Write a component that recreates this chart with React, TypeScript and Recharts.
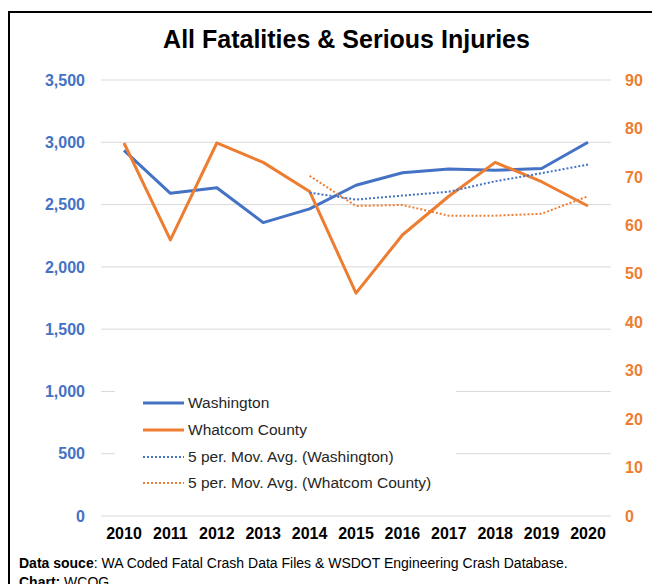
import React from 'react';
import { LineChart, Line, XAxis, YAxis, CartesianGrid, Legend } from 'recharts';

const years = ['2010', '2011', '2012', '2013', '2014', '2015', '2016', '2017', '2018', '2019', '2020'];
const washington = [2935, 2590, 2635, 2355, 2465, 2655, 2755, 2785, 2775, 2790, 3000];
const whatcom = [77, 57, 77, 73, 67, 46, 58, 66, 73, 69, 64];
const washingtonAvg = [null, null, null, null, 2596, 2540, 2572, 2603, 2687, 2752, 2821];
const whatcomAvg = [null, null, null, null, 70.2, 64, 64.2, 62, 62, 62.4, 66];
const leftTicks = [0, 500, 1000, 1500, 2000, 2500, 3000, 3500];
const rightTicks = [0, 10, 20, 30, 40, 50, 60, 70, 80, 90];
const seriesNames = [
  'Washington',
  'Whatcom County',
  '5 per. Mov. Avg. (Washington)',
  '5 per. Mov. Avg. (Whatcom County)',
];

const BLUE = '#4472C4';
const ORANGE = '#ED7D31';
const FONT = '"Liberation Sans", Arial, sans-serif';

const data = years.map((year, i) => ({
  year,
  washington: washington[i],
  whatcom: whatcom[i],
  washingtonAvg: washingtonAvg[i],
  whatcomAvg: whatcomAvg[i],
}));

function LegendBox({ payload }: any) {
  // keep the series order, not the alphabetical one
  const items = [...(payload || [])].sort(
    (a: any, b: any) => seriesNames.indexOf(a.value) - seriesNames.indexOf(b.value)
  );
  return (
    <div style={{ paddingTop: 2, fontFamily: FONT, fontSize: 15.5, color: '#262626' }}>
      {items.map((entry: any) => {
        const dash = entry.payload?.strokeDasharray;
        return (
          <div key={entry.value} style={{ height: 26.7, display: 'flex', alignItems: 'center' }}>
            <svg width={73} height={10} style={{ flex: 'none' }}>
              <line
                x1={28}
                x2={69}
                y1={5}
                y2={5}
                stroke={entry.color}
                strokeWidth={dash ? 2 : 3}
                strokeDasharray={dash}
              />
            </svg>
            <span style={{ whiteSpace: 'nowrap' }}>{entry.value}</span>
          </div>
        );
      })}
    </div>
  );
}

export default function App() {
  const tickStyle = { fontFamily: FONT, fontSize: 16, fontWeight: 700 };
  return (
    <div
      style={{
        position: 'absolute',
        left: 0,
        top: 0,
        width: 652,
        height: 584,
        overflow: 'hidden',
        background: '#fff',
        fontFamily: FONT,
      }}
    >
      <div
        style={{
          position: 'absolute',
          left: 8,
          top: 11,
          width: 700,
          height: 700,
          borderTop: '2px solid #000',
          borderLeft: '2px solid #000',
        }}
      />
      <div
        style={{
          position: 'absolute',
          left: 0,
          top: 27,
          width: 693,
          textAlign: 'center',
          fontSize: 25,
          lineHeight: '25px',
          fontWeight: 700,
          color: '#000',
        }}
      >
        All Fatalities &amp; Serious Injuries
      </div>
      <div style={{ position: 'absolute', left: 0, top: 0 }}>
        <LineChart width={652} height={584} data={data} margin={{ top: 80, right: 1, bottom: 38, left: 41 }}>
          <CartesianGrid yAxisId="left" vertical={false} stroke="#D9D9D9" strokeWidth={1} />
          <XAxis
            dataKey="year"
            axisLine={false}
            tickLine={false}
            height={30}
            tickMargin={6}
            padding={{ left: 23, right: 23 }}
            tick={{ ...tickStyle, fill: '#000' }}
            interval={0}
          />
          <YAxis
            yAxisId="left"
            orientation="left"
            width={60}
            domain={[0, 3500]}
            ticks={leftTicks}
            axisLine={false}
            tickLine={false}
            tickMargin={10}
            tick={{ ...tickStyle, fill: BLUE }}
            tickFormatter={(v: number) => v.toLocaleString('en-US')}
          />
          <YAxis
            yAxisId="right"
            orientation="right"
            width={40}
            domain={[0, 90]}
            ticks={rightTicks}
            axisLine={false}
            tickLine={false}
            tickMargin={8}
            tick={{ ...tickStyle, fill: ORANGE }}
          />
          <Line
            yAxisId="left"
            dataKey="washington"
            name={seriesNames[0]}
            stroke={BLUE}
            strokeWidth={3}
            strokeLinejoin="round"
            dot={false}
            activeDot={false}
            isAnimationActive={false}
          />
          <Line
            yAxisId="right"
            dataKey="whatcom"
            name={seriesNames[1]}
            stroke={ORANGE}
            strokeWidth={3}
            strokeLinejoin="round"
            dot={false}
            activeDot={false}
            isAnimationActive={false}
          />
          <Line
            yAxisId="left"
            dataKey="washingtonAvg"
            name={seriesNames[2]}
            stroke={BLUE}
            strokeWidth={2}
            strokeDasharray="2 2"
            dot={false}
            activeDot={false}
            isAnimationActive={false}
          />
          <Line
            yAxisId="right"
            dataKey="whatcomAvg"
            name={seriesNames[3]}
            stroke={ORANGE}
            strokeWidth={2}
            strokeDasharray="2 2"
            dot={false}
            activeDot={false}
            isAnimationActive={false}
          />
          <Legend
            layout="vertical"
            verticalAlign="middle"
            align="center"
            content={<LegendBox />}
            wrapperStyle={{
              position: 'absolute',
              left: 115,
              top: 388,
              width: 341,
              height: 108,
              backgroundColor: '#fff',
            }}
          />
        </LineChart>
      </div>
      <div
        style={{
          position: 'absolute',
          left: 19,
          top: 554,
          fontSize: 14,
          lineHeight: '19px',
          color: '#000',
          whiteSpace: 'nowrap',
        }}
      >
        <div>
          <b>Data souce</b>: WA Coded Fatal Crash Data Files &amp; WSDOT Engineering Crash Database.
        </div>
        <div>
          <b>Chart:</b> WCOG.
        </div>
      </div>
    </div>
  );
}
